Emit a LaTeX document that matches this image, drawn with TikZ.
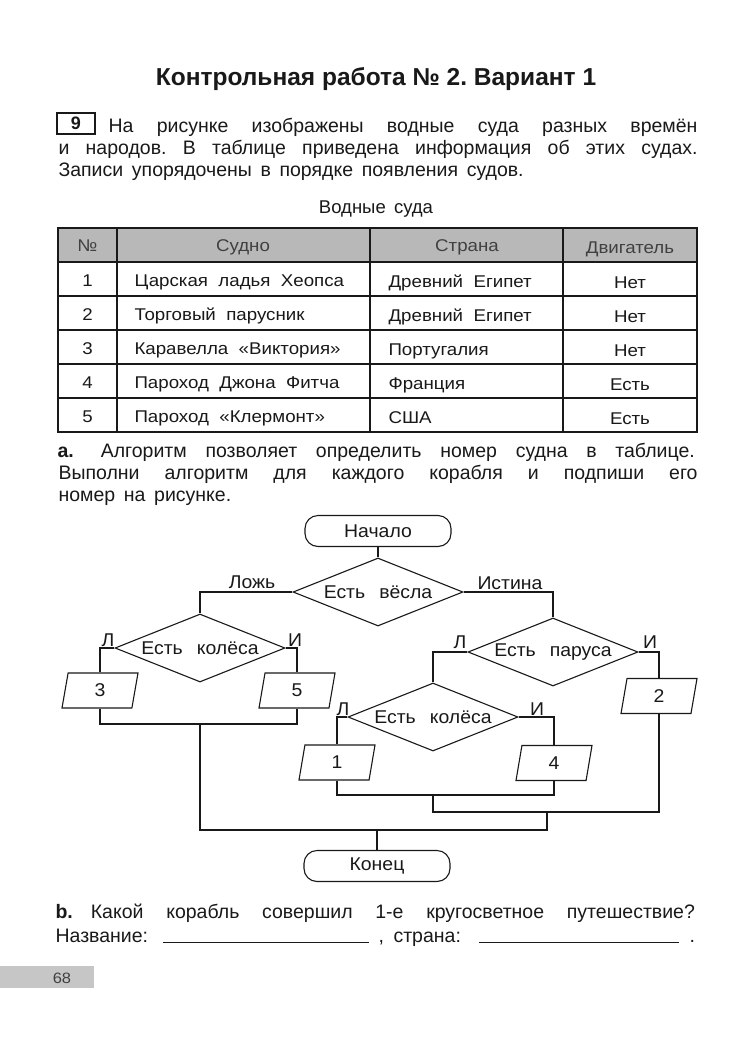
\documentclass[tikz,border=0pt]{standalone}
\usepackage{fontspec}
\setmainfont[WordSpace=1.6]{Liberation Sans}
\newfontfamily\tblfont[FakeStretch=1.1,WordSpace=2]{Liberation Sans}
\newfontfamily\fcfont[FakeStretch=1.05,WordSpace=2.6]{Liberation Sans}
\newfontfamily\ttlfont{Liberation Sans}
\usetikzlibrary{shapes.geometric}
\definecolor{hdr}{gray}{0.72}
\definecolor{ink}{gray}{0.1}
\frenchspacing
\begin{document}
\begin{tikzpicture}[x=1pt,y=-1pt,line width=1.1pt,color=ink,
  every node/.style={inner sep=0pt,text=ink,font=\fontsize{19.5}{23}\selectfont},
  txt/.style={anchor=base west},
  ctr/.style={anchor=base},
  tbl/.style={font=\tblfont\fontsize{17}{20}\selectfont},
  thd/.style={font=\tblfont\fontsize{17}{20}\selectfont,text=black!75},
  fc/.style={font=\fcfont\fontsize{18.5}{22}\selectfont},
  dia/.style={draw,diamond,aspect=2.5,minimum width=170pt,minimum height=68pt,inner sep=0pt,font=\fcfont\fontsize{18.5}{22}\selectfont},
  par/.style={draw,trapezium,trapezium left angle=65,trapezium right angle=115,trapezium stretches body,minimum width=76pt,minimum height=35pt,inner sep=0pt,font=\fcfont\fontsize{18.5}{22}\selectfont},
  term/.style={draw,rounded corners=13pt,minimum width=146pt,minimum height=31pt,font=\fcfont\fontsize{18.5}{22}\selectfont}]
\useasboundingbox[fill=white] (0,0) rectangle (731,1039);

% title
\node[ctr,font=\ttlfont\fontsize{24.5}{28}\selectfont\bfseries] (title) at (376,85) {Контрольная работа № 2. Вариант 1};

% task number box
\node[draw,line width=1.3pt,minimum width=38pt,minimum height=21pt,font=\ttlfont\fontsize{18}{21}\selectfont\bfseries] (nine) at (76,123.5) {9};
\node[txt] (p1a) at (108,132) {\makebox[589pt][s]{На рисунке изображены водные суда разных времён}};
\node[txt] (p1b) at (58,154) {\makebox[639pt][s]{и народов. В таблице приведена информация об этих судах.}};
\node[txt] (p1c) at (58,176) {Записи упорядочены в порядке появления судов.};

\node[ctr,font=\fontsize{18.5}{22}\selectfont] (cap) at (376,213) {Водные суда};

% table
\fill[hdr] (58,228) rectangle (697,262);
\draw (58,228) rectangle (697,432);
\foreach \yy in {262,296,330,364,398} \draw (58,\yy) -- (697,\yy);
\foreach \xx in {117,370,563} \draw (\xx,228) -- (\xx,432);

\node[thd,ctr] (h1) at (87.5,251) {№};
\node[thd,ctr] (h2) at (243,251) {Судно};
\node[thd,ctr] (h3) at (467,251) {Страна};
\node[thd,ctr] (h4) at (630,253) {Двигатель};

\node[tbl,ctr] (n1) at (87.5,286) {1};
\node[tbl,txt] (s1) at (134,286) {Царская ладья Хеопса};
\node[tbl,txt] (c1) at (388,287) {Древний Египет};
\node[tbl,ctr] (e1) at (630,288) {Нет};

\node[tbl,ctr] (n2) at (87.5,320) {2};
\node[tbl,txt] (s2) at (134,320) {Торговый парусник};
\node[tbl,txt] (c2) at (388,321) {Древний Египет};
\node[tbl,ctr] (e2) at (630,322) {Нет};

\node[tbl,ctr] (n3) at (87.5,354) {3};
\node[tbl,txt] (s3) at (134,354) {Каравелла «Виктория»};
\node[tbl,txt] (c3) at (388,355) {Португалия};
\node[tbl,ctr] (e3) at (630,356) {Нет};

\node[tbl,ctr] (n4) at (87.5,388) {4};
\node[tbl,txt] (s4) at (134,388) {Пароход Джона Фитча};
\node[tbl,txt] (c4) at (388,389) {Франция};
\node[tbl,ctr] (e4) at (630,390) {Есть};

\node[tbl,ctr] (n5) at (87.5,422) {5};
\node[tbl,txt] (s5) at (134,422) {Пароход «Клермонт»};
\node[tbl,txt] (c5) at (388,423) {США};
\node[tbl,ctr] (e5) at (630,424) {Есть};

% part a
\node[txt] (a1) at (57,457) {\textbf{a.}\hspace{27pt}\makebox[594pt][s]{Алгоритм позволяет определить номер судна в таблице.}};
\node[txt] (a2) at (58,479) {\makebox[639pt][s]{Выполни алгоритм для каждого корабля и подпиши его}};
\node[txt] (a3) at (58,501) {номер на рисунке.};

% flowchart
\node[term] (start) at (378,531) {Начало};
\node[dia] (d1) at (378,592) {Есть вёсла};
\node[dia] (d2) at (200,648) {Есть колёса};
\node[dia] (d3) at (553,652) {Есть паруса};
\node[dia] (d4) at (433,717) {Есть колёса};
\node[par] (p3) at (100,690.5) {3};
\node[par] (p5) at (297,690.5) {5};
\node[par] (p2) at (659,696) {2};
\node[par] (p1) at (337,762.5) {1};
\node[par] (p4) at (554,763) {4};
\node[term] (end) at (377,866) {Конец};

\coordinate (j1) at (200,724);
\coordinate (j2) at (433,795);
\coordinate (j4) at (547,812);
\coordinate (j5) at (377,830);
\coordinate (j3) at (200,830);

\draw (start) -- (d1);
\draw (d1.west) -| (d2.north);
\draw (d1.east) -| (d3.north);
\draw (d2.west) -| (p3.north);
\draw (d2.east) -| (p5.north);
\draw (d3.west) -| (d4.north);
\draw (d3.east) -| (p2.north);
\draw (d4.west) -| (p1.north);
\draw (d4.east) -| (p4.north);
\draw (p3.south) |- (j1) -| (p5.south);
\draw (p1.south) |- (j2) -| (p4.south);
\draw (j2) |- (j4) -| (p2.south);
\draw (j1) -- (j3) -- (j5);
\draw (j4) |- (j5);
\draw (j5) -- (end);

\node[fc,ctr] (lf) at (252,588) {Ложь};
\node[fc,ctr] (lt) at (510,589) {Истина};
\node[fc,ctr] (l2l) at (108,646) {Л};
\node[fc,ctr] (l2r) at (295,646) {И};
\node[fc,ctr] (l3l) at (460,648) {Л};
\node[fc,ctr] (l3r) at (650,648) {И};
\node[fc,ctr] (l4l) at (343,715) {Л};
\node[fc,ctr] (l4r) at (537,715) {И};

% part b
\node[txt] (b1) at (55,918) {\textbf{b.}\hspace{18pt}\makebox[604pt][s]{Какой корабль совершил 1-е кругосветное путешествие?}};
\node[txt] (b2) at (55,942) {Название:};
\node[txt] (b3) at (162,942) {\rule[-1pt]{206pt}{0.9pt}};
\node[txt] (b4) at (378,942) {,};
\node[txt] (b5) at (393,942) {страна:};
\node[txt] (b6) at (478,942) {\rule[-1pt]{200pt}{0.9pt}};
\node[txt] (b7) at (689,942) {.};

% page number
\fill[gray!45] (0,966) rectangle (94,988);
\node[ctr,font=\tblfont\fontsize{15}{18}\selectfont,text=black!75] (pg) at (62,983) {68};
\end{tikzpicture}
\end{document}
